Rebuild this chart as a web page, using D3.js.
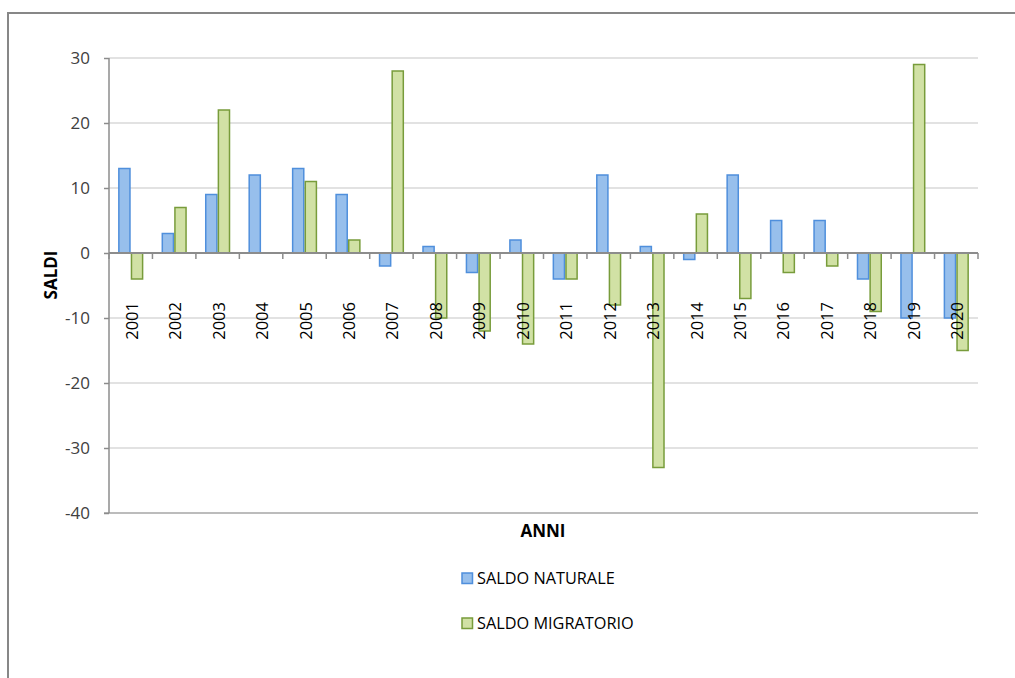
<!DOCTYPE html>
<html><head><meta charset="utf-8">
<script src="https://cdn.jsdelivr.net/npm/d3@7"></script>
<style>body{margin:0;background:#fff}svg{display:block}</style>
</head><body><svg id="c" width="1015" height="678"></svg>
<script>
const years = ["2001","2002","2003","2004","2005","2006","2007","2008","2009","2010","2011","2012","2013","2014","2015","2016","2017","2018","2019","2020"];
const saldoNaturale = [13,3,9,12,13,9,-2,1,-3,2,-4,12,1,-1,12,5,5,-4,-10,-10];
const saldoMigratorio = [-4,7,22,0,11,2,28,-10,-12,-14,-4,-8,-33,6,-7,-3,-2,-9,29,-15];
const seriesNames = ["SALDO NATURALE","SALDO MIGRATORIO"];
const yTicks = [30,20,10,0,-10,-20,-30,-40];

const font = "'Open Sans', sans-serif";
const svg = d3.select("#c");
// outer frame
svg.append("path").attr("d","M8,1000 L8,13 L1020,13").attr("fill","none").attr("stroke","#878787").attr("stroke-width",2);

const L=109,R=978,T=58,B=513;
const x = d3.scaleBand().domain(years).range([L,R]).paddingInner(0).paddingOuter(0);
const inner = d3.scaleBand().domain([0,1]).range([0,x.bandwidth()]).paddingInner(0).paddingOuter(0.72);
const y = d3.scaleLinear().domain([-40,30]).range([B,T]);

// gridlines
svg.append("g").selectAll("line").data(yTicks.filter(d=>d!==0 && d!==-40)).join("line")
  .attr("x1",L).attr("x2",R).attr("y1",d=>y(d)).attr("y2",d=>y(d))
  .attr("stroke","#d9d9d9").attr("stroke-width",1.5);
// bottom line
svg.append("line").attr("x1",L-5).attr("x2",R).attr("y1",y(-40)).attr("y2",y(-40)).attr("stroke","#a6a6a6").attr("stroke-width",1.5);

// y axis
const yAxis = d3.axisLeft(y).tickValues(yTicks).tickSize(5).tickPadding(14).tickFormat(d=>String(d));
const gy = svg.append("g").attr("transform",`translate(${L},0)`).call(yAxis);
gy.select(".domain").attr("stroke","#8c8c8c").attr("stroke-width",1.5).attr("d",`M0,${T}V${B}`);
gy.selectAll(".tick line").attr("stroke","#8c8c8c").attr("stroke-width",1.5);
gy.selectAll(".tick text").attr("font-family",font).attr("font-size",17).attr("fill","#404040").attr("dy","0.34em");

// bars
const colors = [{fill:"#97bfec",stroke:"#4f8fdc"},{fill:"#d1e1a5",stroke:"#789c3b"}];
[saldoNaturale,saldoMigratorio].forEach((vals,si)=>{
  svg.append("g").selectAll("rect").data(vals).join("rect")
    .attr("x",(d,i)=>x(years[i])+inner(si)+0.75)
    .attr("width",inner.bandwidth()-1.5)
    .attr("y",d=>y(Math.max(0,d)))
    .attr("height",d=>Math.abs(y(d)-y(0)))
    .attr("fill",colors[si].fill).attr("stroke",colors[si].stroke).attr("stroke-width",1.5);
});

// x axis at zero
const xAxis = d3.axisBottom(x).tickSize(0).tickFormat("");
const gx = svg.append("g").attr("transform",`translate(0,${y(0)})`).call(xAxis);
gx.select(".domain").attr("stroke","#8c8c8c").attr("stroke-width",2).attr("d",`M${L},0H${R}`);
gx.selectAll(".tick").remove();
const bounds = years.map(yr=>x(yr)).concat([R]);
gx.selectAll("line.tk").data(bounds).join("line").attr("class","tk")
  .attr("x1",d=>d).attr("x2",d=>d).attr("y1",0).attr("y2",6).attr("stroke","#8c8c8c").attr("stroke-width",1.5);

// year labels
svg.append("g").selectAll("text").data(years).join("text")
  .attr("transform",d=>`translate(${x(d)+x.bandwidth()/2+7},302) rotate(-90)`)
  .attr("text-anchor","end").attr("font-family",font).attr("font-size",16.5).attr("fill","#000")
  .text(d=>d);

// axis titles
svg.append("text").attr("transform",`translate(${57},${275}) rotate(-90)`).attr("text-anchor","middle")
  .attr("font-family",font).attr("font-weight","bold").attr("font-size",17).attr("fill","#000").text("SALDI");
svg.append("text").attr("x",543).attr("y",537).attr("text-anchor","middle")
  .attr("font-family",font).attr("font-weight","bold").attr("font-size",17).attr("fill","#000").text("ANNI");

// legend
const lg = svg.append("g").selectAll("g").data(seriesNames).join("g")
  .attr("transform",(d,i)=>`translate(462,${573+i*45})`);
lg.append("rect").attr("width",10.5).attr("height",10.5)
  .attr("fill",(d,i)=>colors[i].fill).attr("stroke",(d,i)=>colors[i].stroke).attr("stroke-width",1.5);
lg.append("text").attr("x",15).attr("y",5.5).attr("dy","0.35em").attr("font-family",font).attr("font-size",16.3)
  .attr("fill","#000").text(d=>d);
</script></body></html>
